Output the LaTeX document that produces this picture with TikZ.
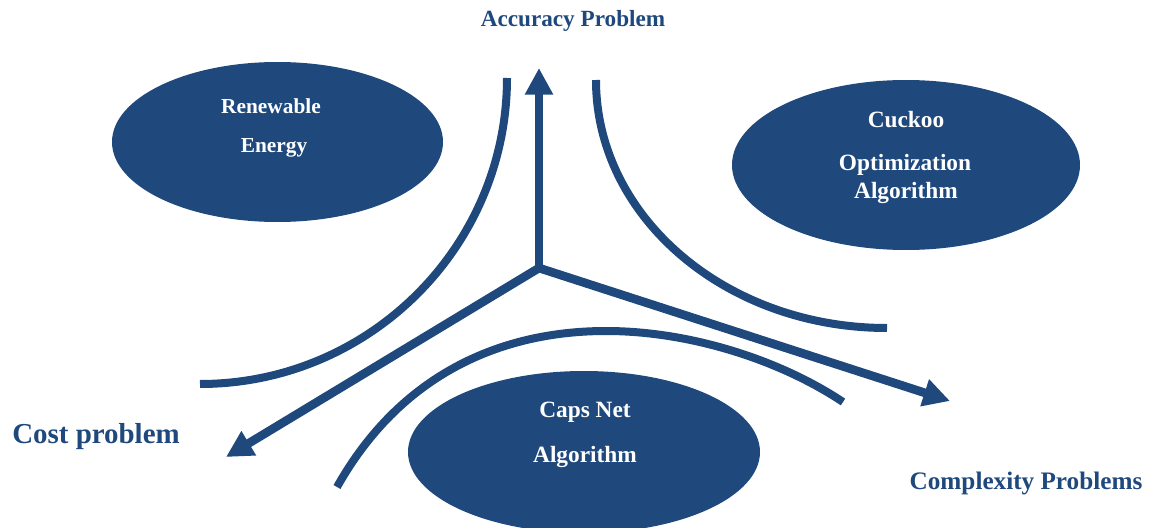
\documentclass[tikz,border=0pt]{standalone}
\usepackage{fontspec}
\setmainfont{Liberation Serif}
\usetikzlibrary{arrows.meta,shapes.geometric}
\definecolor{navy}{HTML}{1F497D}
\tikzset{
  blob/.style={ellipse,fill=navy,draw=none,inner sep=0pt},
  wtxt/.style={text=white,font=\bfseries\fontsize{17.5}{20}\selectfont,inner sep=0pt,anchor=center},
  btxt/.style={text=navy,inner sep=0pt,anchor=center},
  band/.style={draw=navy,line width=6pt,line cap=butt},
  ray/.style={draw=navy,line width=6.5pt,line cap=butt,-{Triangle[length=20pt,width=20pt]}}
}
\begin{document}
\begin{tikzpicture}[x=0.75pt,y=-0.75pt]
\useasboundingbox (0,0) rectangle (1150,528);
% ellipses
\node[blob,minimum width=331*0.75pt,minimum height=160*0.75pt] (re) at (277.5,142) {};
\node[blob,minimum width=348*0.75pt,minimum height=170*0.75pt] (cu) at (906,165) {};
\node[blob,minimum width=352*0.75pt,minimum height=162*0.75pt] (cn) at (584,452) {};
% ellipse texts
\node[wtxt,font=\bfseries\fontsize{16}{19}\selectfont] (t1) at (271,106) {Renewable};
\node[wtxt,font=\bfseries\fontsize{16}{19}\selectfont] (t2) at (274,148) {Energy};
\node[wtxt] (t3) at (906,120) {Cuckoo};
\node[wtxt] (t4) at (905,165) {Optimization};
\node[wtxt] (t5) at (906,193) {Algorithm};
\node[wtxt] (t6) at (585,412) {Caps Net};
\node[wtxt] (t7) at (585,457) {Algorithm};
% outer labels
\node[btxt,font=\bfseries\fontsize{17.4}{20}\selectfont] (acc) at (573,21) {Accuracy Problem};
\node[btxt,font=\bfseries\fontsize{21.7}{24}\selectfont] (cost) at (96,437) {Cost problem};
\node[btxt,font=\bfseries\fontsize{18.9}{22}\selectfont] (cpx) at (1026,483) {Complexity Problems};
% curves
\draw[band] (507,78) .. controls (507,247) and (369,384) .. (200,384);
\draw[band] (596,80) .. controls (596,217) and (726,328) .. (887,328);
\draw[band] (337,487) .. controls (400,375) and (500,331) .. (606,331)
                      .. controls (690,331) and (780,360) .. (843,402);
% arrows
\coordinate (c) at (539,268);
\coordinate (up) at (539,68);
\coordinate (dl) at (226,457);
\coordinate (dr) at (950,401);
\draw[ray] (c) -- (up);
\draw[ray] (c) -- (dl);
\draw[ray] (c) -- (dr);
\end{tikzpicture}
\end{document}
